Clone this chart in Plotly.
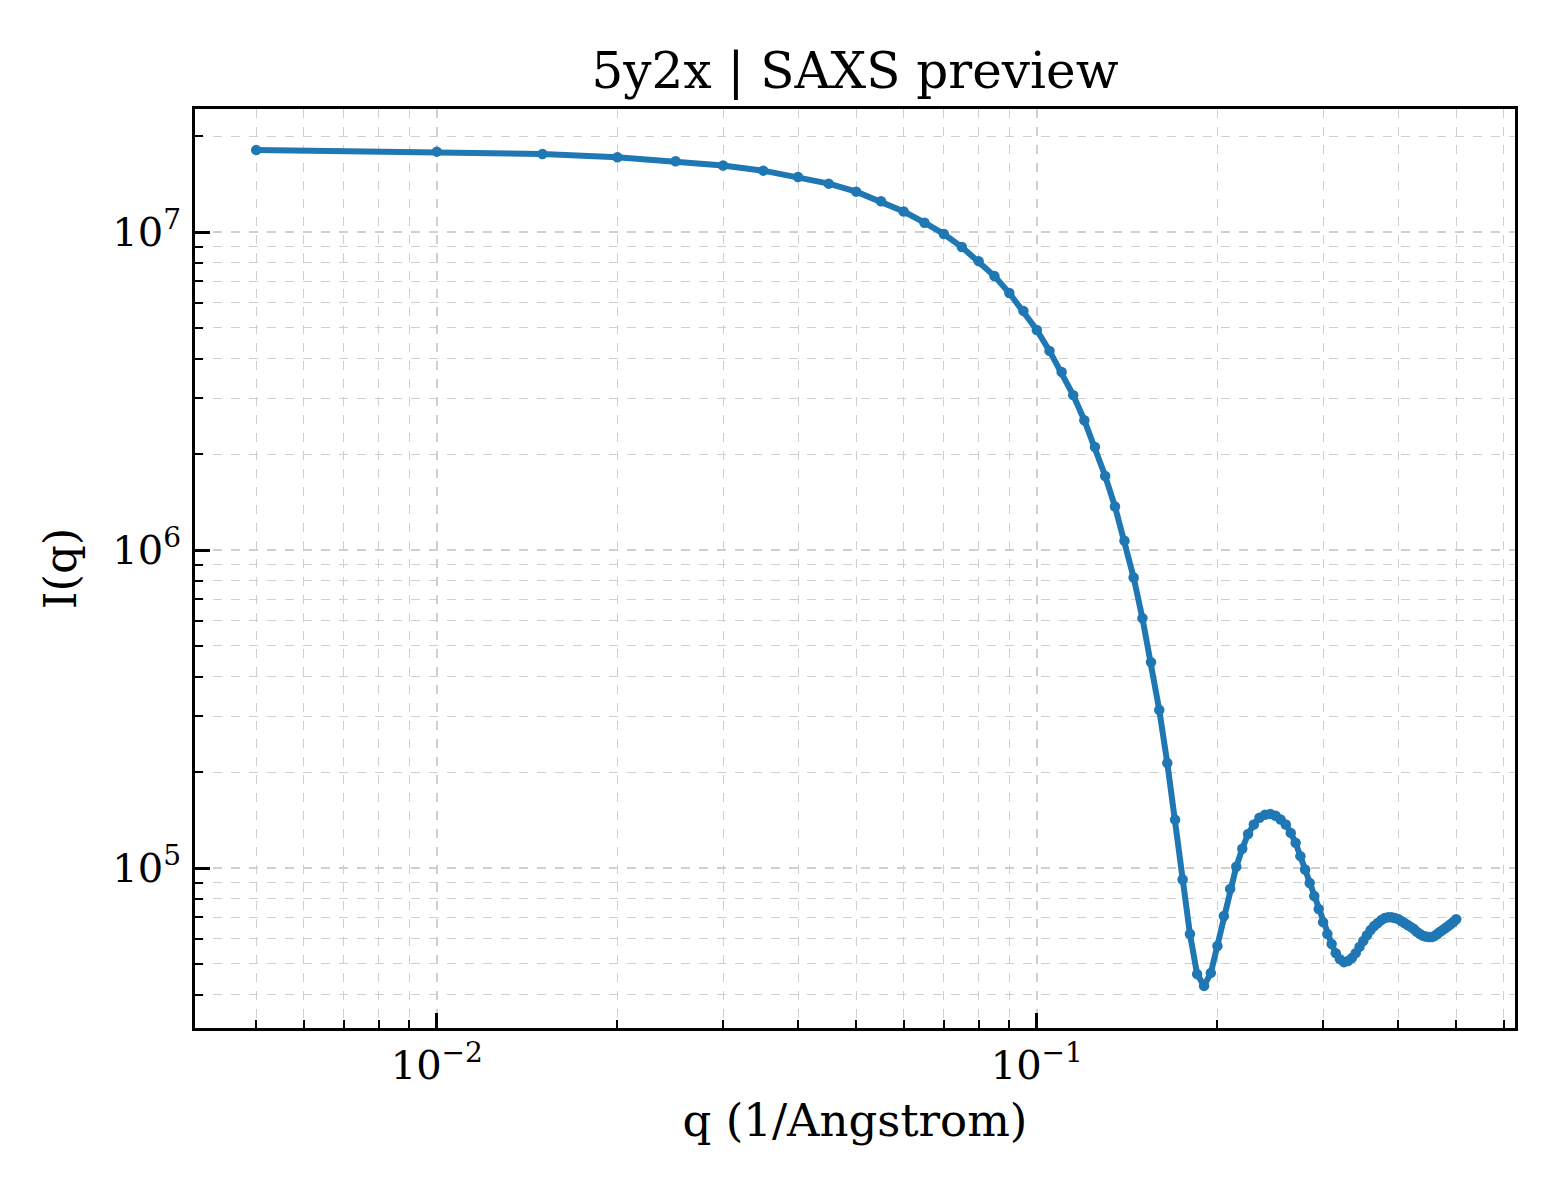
import plotly.graph_objects as go

# ------- data
q = [0.005, 0.010, 0.015, 0.020, 0.025, 0.030, 0.035, 0.040, 0.045, 0.050,
     0.055, 0.060, 0.065, 0.070, 0.075, 0.080, 0.085, 0.090, 0.095, 0.100,
     0.105, 0.110, 0.115, 0.120, 0.125, 0.130, 0.135, 0.140, 0.145, 0.150,
     0.155, 0.160, 0.165, 0.170, 0.175, 0.180, 0.185, 0.190, 0.195, 0.200,
     0.205, 0.210, 0.215, 0.220, 0.225, 0.230, 0.235, 0.240, 0.245, 0.250,
     0.255, 0.260, 0.265, 0.270, 0.275, 0.280, 0.285, 0.290, 0.295, 0.300,
     0.305, 0.310, 0.315, 0.320, 0.325, 0.330, 0.335, 0.340, 0.345, 0.350,
     0.355, 0.360, 0.365, 0.370, 0.375, 0.380, 0.385, 0.390, 0.395, 0.400,
     0.405, 0.410, 0.415, 0.420, 0.425, 0.430, 0.435, 0.440, 0.445, 0.450,
     0.455, 0.460, 0.465, 0.470, 0.475, 0.480, 0.485, 0.490, 0.495, 0.500]

intensity = [1.81e7, 1.79e7, 1.76e7, 1.72e7, 1.67e7, 1.62e7, 1.56e7, 1.49e7, 1.42e7, 1.34e7,
             1.25e7, 1.16e7, 1.07e7, 9.86e6, 8.97e6, 8.10e6, 7.27e6, 6.43e6, 5.65e6, 4.92e6,
             4.23e6, 3.63e6, 3.07e6, 2.56e6, 2.11e6, 1.71e6, 1.37e6, 1.07e6, 8.2e5, 6.1e5,
             4.44e5, 3.14e5, 2.14e5, 1.42e5, 9.2e4, 6.2e4, 4.64e4, 4.26e4, 4.68e4, 5.69e4,
             7.07e4, 8.6e4, 1.01e5, 1.15e5, 1.28e5, 1.37e5, 1.44e5, 1.47e5, 1.48e5, 1.46e5,
             1.42e5, 1.37e5, 1.29e5, 1.20e5, 1.09e5, 9.9e4, 8.97e4, 8.17e4, 7.43e4, 6.76e4,
             6.20e4, 5.77e4, 5.40e4, 5.17e4, 5.06e4, 5.10e4, 5.21e4, 5.40e4, 5.65e4, 5.90e4,
             6.15e4, 6.38e4, 6.57e4, 6.72e4, 6.86e4, 6.96e4, 7.00e4, 7.00e4, 6.96e4, 6.92e4,
             6.81e4, 6.72e4, 6.62e4, 6.53e4, 6.43e4, 6.30e4, 6.20e4, 6.13e4, 6.09e4, 6.07e4,
             6.07e4, 6.11e4, 6.20e4, 6.30e4, 6.39e4, 6.48e4, 6.57e4, 6.67e4, 6.78e4, 6.90e4]

x_ticks = [0.01, 0.1]
x_ticktext = ["10<sup>−2</sup>", "10<sup>−1</sup>"]
x_minor = [0.005, 0.006, 0.007, 0.008, 0.009,
           0.02, 0.03, 0.04, 0.05, 0.06, 0.07, 0.08, 0.09,
           0.2, 0.3, 0.4, 0.5, 0.6]
y_ticks = [1e5, 1e6, 1e7]
y_ticktext = ["10<sup>5</sup>", "10<sup>6</sup>", "10<sup>7</sup>"]
y_minor = [4e4, 5e4, 6e4, 7e4, 8e4, 9e4,
           2e5, 3e5, 4e5, 5e5, 6e5, 7e5, 8e5, 9e5,
           2e6, 3e6, 4e6, 5e6, 6e6, 7e6, 8e6, 9e6,
           2e7]

FONT = "DejaVu Serif"
GRID = "#cfcfcf"

fig = go.Figure()
fig.add_trace(go.Scatter(x=q, y=intensity,
                         mode="lines+markers",
                         line=dict(color="#1f77b4", width=6),
                         marker=dict(color="#1f77b4", size=10.5),
                         showlegend=False))

axis_common = dict(
    type="log",
    showline=True, linecolor="black", linewidth=3, mirror=True,
    ticks="inside", ticklen=15, tickwidth=2.5, tickcolor="black",
    showgrid=True, gridcolor=GRID, gridwidth=1.5, griddash="dash",
    tickfont=dict(family=FONT, size=40, color="black"),
    zeroline=False,
)

# page body has an 8px default margin, so the figure is shifted down/right by 8
fig.update_layout(
    width=1560, height=1200,
    margin=dict(l=187, r=53, t=101, b=180),
    paper_bgcolor="white", plot_bgcolor="white",
    font=dict(family=FONT, color="black"),
    title=dict(text="5y2x | SAXS preview", x=(855 - 8) / 1560, xanchor="center",
               y=1 - 62 / 1200, yanchor="middle", yref="container",
               font=dict(family=FONT, size=50, color="black")),
    xaxis=dict(axis_common,
               range=[-2.403, -0.203],
               tickmode="array", tickvals=x_ticks, ticktext=x_ticktext,
               ticklabelstandoff=0,
               minor=dict(tickmode="array", tickvals=x_minor, ticks="inside",
                          ticklen=8, tickwidth=2, tickcolor="black",
                          showgrid=True, gridcolor=GRID, gridwidth=1.2, griddash="dash"),
               title=dict(text="q (1/Angstrom)", standoff=18,
                          font=dict(family=FONT, size=45, color="black"))),
    yaxis=dict(axis_common,
               range=[4.497, 7.387],
               tickmode="array", tickvals=y_ticks, ticktext=y_ticktext,
               ticklabelstandoff=3,
               minor=dict(tickmode="array", tickvals=y_minor, ticks="inside",
                          ticklen=8, tickwidth=2, tickcolor="black",
                          showgrid=True, gridcolor=GRID, gridwidth=1.2, griddash="dash"),
               title=dict(text="I(q)", standoff=22,
                          font=dict(family=FONT, size=45, color="black"))),
)

fig.write_html("out.html")
